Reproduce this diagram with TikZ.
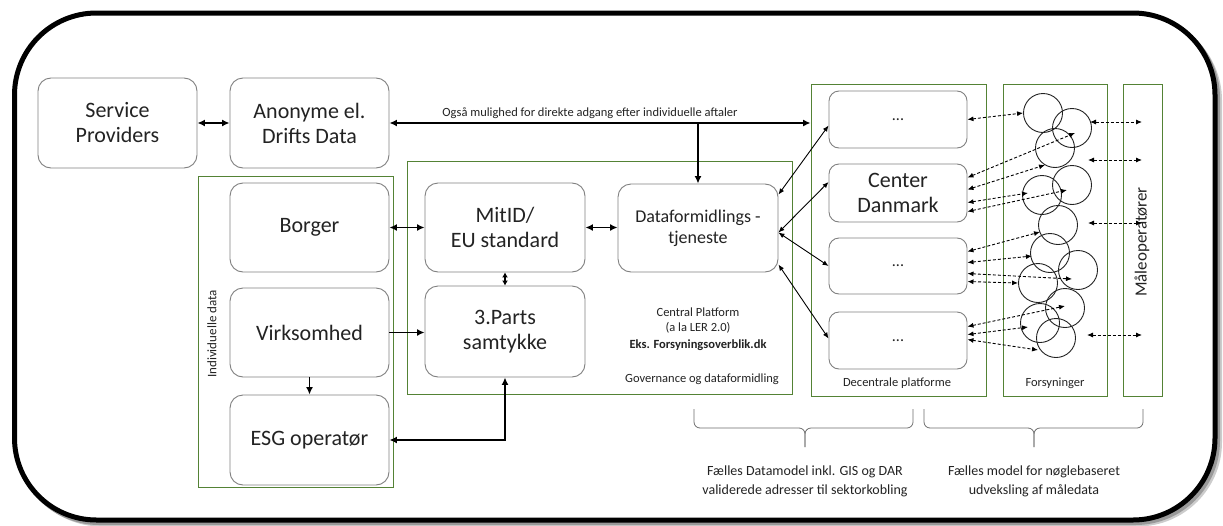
\documentclass[tikz,border=0pt]{standalone}
\usepackage{fontspec}
\setmainfont{Carlito}
\usetikzlibrary{arrows.meta,calc}

\definecolor{grpGreen}{RGB}{84,130,53}
\definecolor{boxGray}{RGB}{128,128,128}
\definecolor{braceGray}{RGB}{110,110,110}
\definecolor{inkGray}{RGB}{35,35,35}

\begin{document}
\begin{tikzpicture}[x=1pt,y=-1pt,
  box/.style={draw=boxGray, line width=0.9pt, rounded corners=13pt, align=center,
    inner sep=0pt, text=inkGray, font=\fontsize{22}{25}\selectfont},
  smallbox/.style={box, rounded corners=10pt},
  group/.style={draw=grpGreen, line width=0.8pt, inner sep=0pt},
  circ/.style={circle, draw=inkGray, line width=0.9pt, minimum size=39pt, inner sep=0pt},
  lbl/.style={inner sep=0pt, align=center, text=inkGray, font=\fontsize{12.5}{16}\selectfont},
  heavy/.style={line width=1.8pt, {Latex[length=7.5pt,width=7pt]}-{Latex[length=7.5pt,width=7pt]}},
  heavyto/.style={line width=1.8pt, -{Latex[length=7.5pt,width=7pt]}},
  thinlink/.style={line width=0.9pt, {Latex[length=6pt,width=5pt]}-{Latex[length=6pt,width=5pt]}},
  dashlink/.style={line width=0.9pt, dash pattern=on 3pt off 2pt,
    {Latex[length=6pt,width=5pt]}-{Latex[length=6pt,width=5pt]}},
  bracepath/.style={draw=braceGray, line width=0.8pt, rounded corners=6pt}
]
\useasboundingbox (0,0) rectangle (1223,525);

% outer frame with soft shadow
\draw[line width=5pt, black!20, rounded corners=82pt] (19.5,18.5) rectangle (1219.5,524);
\draw[line width=5pt, black!40, rounded corners=82pt] (17,16) rectangle (1217.5,522.5);
\draw[line width=5pt, fill=white, rounded corners=82pt] (14.5,13) rectangle (1215,520);

% green grouping frames
\node[group, minimum width=195pt, minimum height=311pt] (ind) at (295.5,331.5) {};
\node[group, minimum width=385pt, minimum height=233pt] (cp) at (599.5,277.5) {};
\node[group, minimum width=175pt, minimum height=312pt] (dp) at (898.5,240) {};
\node[group, minimum width=104pt, minimum height=312pt] (fs) at (1055,240) {};
\node[group, minimum width=39pt, minimum height=312pt] (mo) at (1142.5,240) {};

% group captions
\node[lbl, rotate=90, font=\fontsize{13}{15}\selectfont] (indlbl) at (212,334) {Individuelle data};
\node[lbl, rotate=90, font=\fontsize{17}{20}\selectfont] (molbl) at (1142,242) {Måleoperatører};
\node[lbl] (dplbl) at (897,383) {Decentrale platforme};
\node[lbl] (fslbl) at (1055,383) {Forsyninger};
\node[lbl] (cp1) at (698,312) {Central Platform};
\node[lbl] (cp2) at (698,328) {(a la LER 2.0)};
\node[lbl, font=\bfseries\fontsize{12.5}{16}\selectfont] (cp3) at (698,345) {Eks. Forsyningsoverblik.dk};
\node[lbl] (cp4) at (702,379) {Governance og dataformidling};

% main boxes
\node[box, minimum width=159pt, minimum height=90pt] (sp) at (117.5,123) {Service\\Providers};
\node[box, minimum width=159pt, minimum height=90pt] (an) at (309.5,123) {Anonyme el.\\Drifts Data};
\node[box, minimum width=159pt, minimum height=89pt] (bo) at (309.5,227.5) {Borger};
\node[box, minimum width=159pt, minimum height=89pt] (vi) at (309.5,332.5) {Virksomhed};
\node[box, minimum width=159pt, minimum height=90pt] (esg) at (309.5,440) {ESG operatør};
\node[box, minimum width=160pt, minimum height=89pt] (mit) at (505,227.5) {MitID/\\EU standard};
\node[box, minimum width=160pt, minimum height=91pt] (tp) at (505,331.5) {3.Parts\\samtykke};
\node[box, minimum width=160pt, minimum height=88pt, font=\fontsize{18}{21}\selectfont] (df) at (698,228) {Dataformidlings -\\tjeneste};

% decentral platform boxes
\node[smallbox, minimum width=138pt, minimum height=57pt, font=\fontsize{16}{18}\selectfont] (db1) at (898,119.5) {...};
\node[smallbox, minimum width=138pt, minimum height=58pt] (db2) at (898,193) {Center\\Danmark};
\node[smallbox, minimum width=138pt, minimum height=56pt, font=\fontsize{16}{18}\selectfont] (db3) at (898,266) {...};
\node[smallbox, minimum width=138pt, minimum height=57pt, font=\fontsize{16}{18}\selectfont] (db4) at (898,340.5) {...};

% utilities
\node[circ] (c1) at (1043,113) {};
\node[circ] (c2) at (1072,128) {};
\node[circ] (c3) at (1055,148) {};
\node[circ] (c4) at (1072,185) {};
\node[circ] (c5) at (1042,195) {};
\node[circ] (c6) at (1058,225) {};
\node[circ] (c7) at (1050,253) {};
\node[circ] (c8) at (1078,270) {};
\node[circ] (c9) at (1038,283) {};
\node[circ] (c10) at (1065,308) {};
\node[circ] (c11) at (1040,323) {};
\node[circ] (c12) at (1056,338) {};

% direct access line
\node[lbl] (direct) at (590,113) {Også mulighed for direkte adgang efter individuelle aftaler};
\coordinate (junc) at (698,123);
\draw[heavy] (an.east) -- (an.east -| dp.west);
\draw[heavyto] (junc) -- (df.north);

% heavy connectors
\draw[heavy] (sp.east) -- (an.west);
\draw[heavy] (bo.east) -- (mit.west);
\draw[heavy] (mit.east) -- (mit.east -| df.west);
\draw[heavy, {Latex[length=5pt,width=6pt]}-{Latex[length=5pt,width=6pt]}] (mit.south) -- (tp.north);
\draw[heavyto] (vi.east) -- (vi.east -| tp.west);
\draw[heavyto] (vi.south) -- (esg.north);
\draw[heavy] (esg.east) -| (tp.south);

% data service to decentral platforms
\draw[thinlink] ($(df.north east)+(0,11)$) -- ($(db1.west)+(0,6)$);
\draw[thinlink] ($(df.north east)+(0,49)$) -- ($(db2.west)+(0,-11)$);
\draw[thinlink] ($(df.north east)+(0,49)$) -- (db3.west);
\draw[thinlink] ($(df.north east)+(0,81)$) -- ($(db4.west)+(0,-2)$);

% decentral platforms to utilities
\draw[dashlink] (db1.east) -- (c1.west);
\draw[dashlink] ($(db2.north east)+(0,14)$) -- ($(c2)+(3,5)$);
\draw[dashlink] ($(db2.north east)+(0,26)$) -- ($(c3)+(-10,17)$);
\draw[dashlink] ($(db2.north east)+(0,39)$) -- ($(c5)+(-14,-2)$);
\draw[dashlink] ($(db2.north east)+(0,48)$) -- ($(c4)+(-5,5)$);
\draw[dashlink] ($(db3.north east)+(0,14)$) -- ($(c7)+(-10,-21)$);
\draw[dashlink] ($(db3.north east)+(0,25)$) -- ($(c7)+(-18,3)$);
\draw[dashlink] ($(db3.north east)+(0,36)$) -- ($(c8)+(-6,9)$);
\draw[dashlink] ($(db3.north east)+(0,44)$) -- (c9.west);
\draw[dashlink] ($(db4.north east)+(0,15)$) -- ($(c10)+(0,-2)$);
\draw[dashlink] ($(db4.north east)+(0,23)$) -- ($(c11)+(-12,4)$);
\draw[dashlink] ($(db4.north east)+(0,28)$) -- ($(c12)+(-18,12)$);

% utilities to metering operators
\coordinate (u1) at (1090,122); \coordinate (o1) at (1142,122);
\coordinate (u2) at (1088,160); \coordinate (o2) at (1142,160);
\coordinate (u3) at (1088,223); \coordinate (o3) at (1142,223);
\coordinate (u4) at (1087,335); \coordinate (o4) at (1142,335);
\draw[dashlink] (u1) -- (o1);
\draw[dashlink] (u2) -- (o2);
\draw[dashlink] (u3) -- (o3);
\draw[dashlink] (u4) -- (o4);

% braces and their captions
\coordinate (b1l) at (694,409); \coordinate (b1m) at (805,447); \coordinate (b1r) at (913,409);
\coordinate (b2l) at (924,409); \coordinate (b2m) at (1034,447); \coordinate (b2r) at (1143,409);
\draw[bracepath] (b1l) -- (b1l |- 0,428) -- (b1m |- 0,428) -- (b1m);
\draw[bracepath] (b1m) -- (b1m |- 0,428) -- (b1r |- 0,428) -- (b1r);
\draw[bracepath] (b2l) -- (b2l |- 0,428) -- (b2m |- 0,428) -- (b2m);
\draw[bracepath] (b2m) -- (b2m |- 0,428) -- (b2r |- 0,428) -- (b2r);
\node[lbl, font=\fontsize{14}{19}\selectfont, anchor=north] (cap1) at (805,466) {Fælles Datamodel inkl. GIS og DAR\\validerede adresser til sektorkobling};
\node[lbl, font=\fontsize{14}{19}\selectfont, anchor=north] (cap2) at (1034,466) {Fælles model for nøglebaseret\\udveksling af måledata};
\end{tikzpicture}
\end{document}
